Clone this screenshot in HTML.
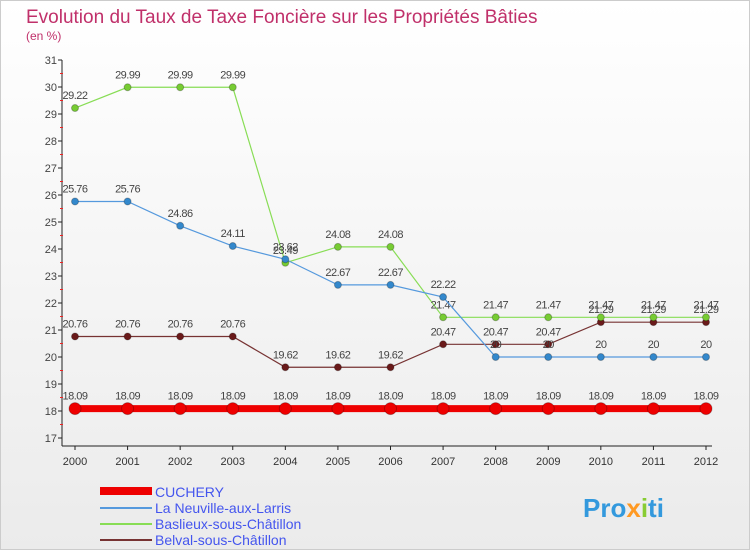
<!DOCTYPE html>
<html><head><meta charset="utf-8"><style>
body{margin:0;background:#fff}
svg{display:block;font-family:"Liberation Sans",sans-serif}
</style></head><body>
<svg id="c" width="750" height="550" viewBox="0 0 750 550">
<defs><linearGradient id="bg" x1="0" y1="0" x2="0" y2="1"><stop offset="0" stop-color="#ffffff"/><stop offset="1" stop-color="#ebebeb"/></linearGradient></defs>
<rect x="0.5" y="0.5" width="749" height="549" fill="url(#bg)" stroke="#ccc"/>
<text x="26" y="23" font-size="19" fill="#c0306a">Evolution du Taux de Taxe Foncière sur les Propriétés Bâties</text>
<text x="26" y="40" font-size="12" fill="#c0306a">(en %)</text>
<g id="axes"></g><g id="series"></g>
<g>
<rect x="100" y="487" width="52" height="8" fill="#ee0000"/>
<text x="155" y="497" font-size="14" fill="#4455ee">CUCHERY</text>
<rect x="100" y="507" width="52" height="2" fill="#5599dd"/>
<text x="155" y="513" font-size="14" fill="#4455ee">La Neuville-aux-Larris</text>
<rect x="100" y="523" width="52" height="2" fill="#88dd55"/>
<text x="155" y="529" font-size="14" fill="#4455ee">Baslieux-sous-Châtillon</text>
<rect x="100" y="539" width="52" height="2" fill="#773333"/>
<text x="155" y="545" font-size="14" fill="#4455ee">Belval-sous-Châtillon</text>
</g>
<text x="583" y="517" font-size="26" font-weight="bold" fill="#3399dd">Pro<tspan fill="#ff9922">x</tspan><tspan fill="#88cc33">i</tspan>ti</text>
</svg>
<script>
const years=[2000,2001,2002,2003,2004,2005,2006,2007,2008,2009,2010,2011,2012];
const cuchery=[18.09,18.09,18.09,18.09,18.09,18.09,18.09,18.09,18.09,18.09,18.09,18.09,18.09];
const neuville=[25.76,25.76,24.86,24.11,23.62,22.67,22.67,22.22,20,20,20,20,20];
const baslieux=[29.22,29.99,29.99,29.99,23.49,24.08,24.08,21.47,21.47,21.47,21.47,21.47,21.47];
const belval=[20.76,20.76,20.76,20.76,19.62,19.62,19.62,20.47,20.47,20.47,21.29,21.29,21.29];
const yTicks=[17,18,19,20,21,22,23,24,25,26,27,28,29,30,31];
const NS="http://www.w3.org/2000/svg";
const x=i=>75+i*(706-75)/12;
const y=v=>438-(v-17)*27;
function mk(t,a,p){const e=document.createElementNS(NS,t);for(const k in a)e.setAttribute(k,a[k]);p.appendChild(e);return e;}
const ax=document.getElementById('axes');
let e=mk('line',{x1:62,y1:y(31),x2:62,y2:y(17)+8,stroke:'#222'},ax);


e=mk('line',{x1:62,y1:y(17)+8,x2:712,y2:y(17)+8,stroke:'#222'},ax);


yTicks.forEach(v=>{
 mk('line',{x1:58,y1:y(v),x2:62,y2:y(v),stroke:'#222'},ax);
 if(v<31) mk('line',{x1:60,y1:y(v+0.5),x2:63,y2:y(v+0.5),stroke:'#e22'},ax);
 const t=mk('text',{x:57,y:y(v)+4,'font-size':11,fill:'#444','text-anchor':'end'},ax);t.textContent=v;
 
 
});
years.forEach((yr,i)=>{
 mk('line',{x1:x(i),y1:y(17)+8,x2:x(i),y2:y(17)+12,stroke:'#222'},ax);
 const t=mk('text',{x:x(i),y:465,'font-size':11,fill:'#333','text-anchor':'middle'},ax);t.textContent=yr;
 
 
});
const sg=document.getElementById('series');
function draw(vals,color,w,r,fill,name){
 const g=mk('g',{},sg);
 
 
 mk('polyline',{points:vals.map((v,i)=>x(i)+','+y(v)).join(' '),fill:'none',stroke:color,'stroke-width':w},g);
 vals.forEach((v,i)=>{
  const c=mk('circle',{cx:x(i),cy:y(v),r:r,fill:fill,stroke:'rgba(0,0,0,0.25)'},g);
  
  
  const t=mk('text',{x:x(i),y:y(v)-9,'font-size':11,fill:'#444','text-anchor':'middle','letter-spacing':'-0.5'},g);
  t.textContent=String(v);
 });
}
draw(belval,'#773333',1.2,3.5,'#6a1a1a','series-belval');
draw(baslieux,'#88dd55',1.2,3.5,'#77cc33','series-baslieux');
draw(neuville,'#5599dd',1.2,3.5,'#3388cc','series-neuville');
draw(cuchery,'#ee0000',7,6,'#ee0000','series-cuchery');
</script>
</body></html>
